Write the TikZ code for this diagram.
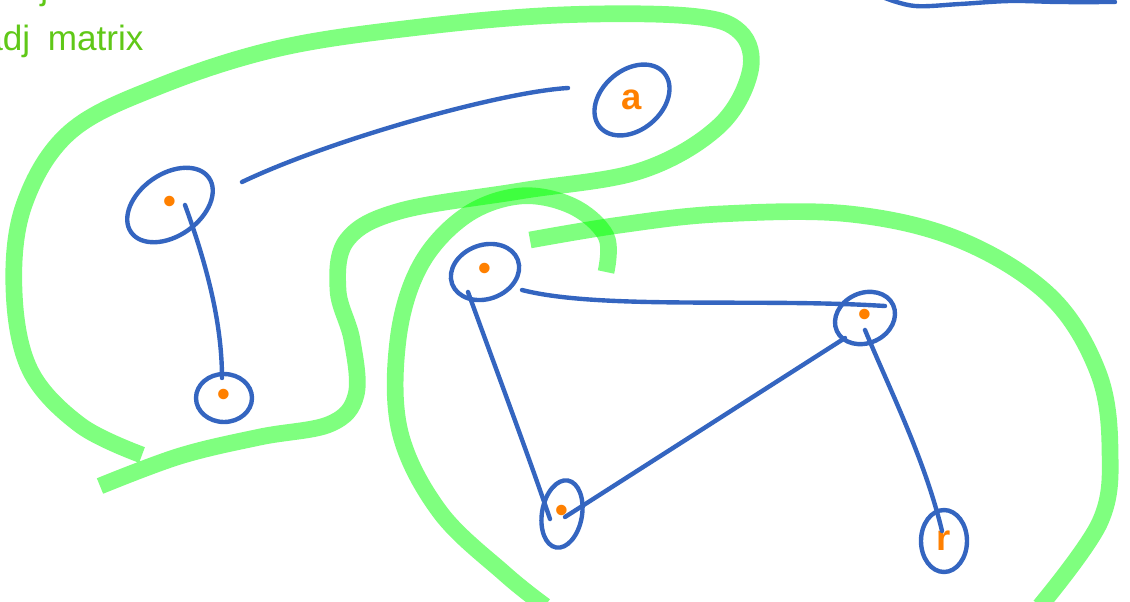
\documentclass[tikz,border=0pt]{standalone}
\usepackage{fontspec}
\setmainfont{Liberation Sans}
\usetikzlibrary{shapes.geometric}

\definecolor{inkblue}{RGB}{52,101,192}
\definecolor{inkorange}{RGB}{255,128,0}
\definecolor{inkgreen}{RGB}{96,200,24}
\definecolor{hlgreen}{RGB}{0,255,0}

\begin{document}
\begin{tikzpicture}[
    x=0.02cm, y=-0.02cm,
    vtx/.style={ellipse, draw=inkblue, line width=2.5pt, text=inkorange, inner sep=0pt, font=\huge\bfseries},
    edge/.style={draw=inkblue, line width=2.5pt, line cap=round},
    marker/.style={draw=hlgreen, draw opacity=0.5, line width=9.5pt, line cap=butt, line join=round},
    note/.style={text=inkgreen, font=\fontsize{20}{24}\selectfont, inner sep=0pt, anchor=base west}
  ]
    \useasboundingbox (0,0) rectangle (1130,602);
    \clip (0,0) rectangle (1130,602);

    \node[note] (hdr1) at (1,-1) {adj\hspace{0.5em}mat};
    \node[note] (hdr2) at (-17,50) {adj\hspace{0.5em}matrix};

    \draw[marker] plot[smooth, tension=0.6] coordinates {(100,486) (180,456) (260,437) (330,424) (356,395) (352,340) (338,290) (347,240) (400,211) (520,191) (640,171) (718,127) (750,72) (740,32) (690,16) (560,15) (420,27) (280,48) (160,86) (70,132) (24,205) (14,290) (30,370) (80,425) (142,455)};
    \draw[marker] plot[smooth, tension=0.6] coordinates {(530,240) (620,225) (720,214) (850,214) (960,240) (1050,296) (1098,372) (1110,450) (1100,522) (1040,606)};
    \draw[marker] plot[smooth, tension=0.6] coordinates {(606,272) (606,236) (572,206) (520,196) (465,216) (420,266) (398,340) (400,432) (440,512) (505,574) (545,606)};

    \node[vtx, minimum width=1.68cm, minimum height=1.2cm, rotate=40] (a) at (632,100) {\rotatebox{-40}{a}};
    \node[vtx, minimum width=1.9cm, minimum height=1.24cm, rotate=35] (u) at (170,205) {\rotatebox{-35}{\textbullet}};
    \node[vtx, minimum width=1.12cm, minimum height=0.96cm] (v) at (224,398) {\textbullet};
    \node[vtx, minimum width=1.4cm, minimum height=1.08cm, rotate=20] (p) at (485,272) {\rotatebox{-20}{\textbullet}};
    \node[vtx, minimum width=1.24cm, minimum height=1.0cm, rotate=25] (e) at (865,318) {\rotatebox{-25}{\textbullet}};
    \node[vtx, minimum width=0.8cm, minimum height=1.36cm, rotate=-10] (s) at (562,514) {\rotatebox{10}{\textbullet}};
    \node[vtx, minimum width=0.92cm, minimum height=1.24cm] (r) at (944,541) {r};

    \draw[edge] ([shift={(-64,-12)}]a.center) .. controls (500,92) and (330,140) .. ([shift={(72,-23)}]u.center);
    \draw[edge] ([shift={(15,0)}]u.center) .. controls (205,260) and (222,320) .. ([shift={(-2,-20)}]v.center);
    \draw[edge] ([shift={(37,18)}]p.center) .. controls (600,310) and (760,298) .. ([shift={(20,-12)}]e.center);
    \draw[edge] ([shift={(-17,20)}]p.center) .. controls (500,380) and (530,460) .. ([shift={(-12,5)}]s.center);
    \draw[edge] ([shift={(3,3)}]s.center) -- ([shift={(-20,20)}]e.center);
    \draw[edge] ([shift={(0,12)}]e.center) .. controls (890,390) and (925,460) .. ([shift={(-2,-10)}]r.center);

    \draw[edge] plot[smooth, tension=0.6] coordinates {(885,-2) (915,6) (960,4) (1010,1) (1060,2) (1115,2)};
  \end{tikzpicture}
\end{document}
